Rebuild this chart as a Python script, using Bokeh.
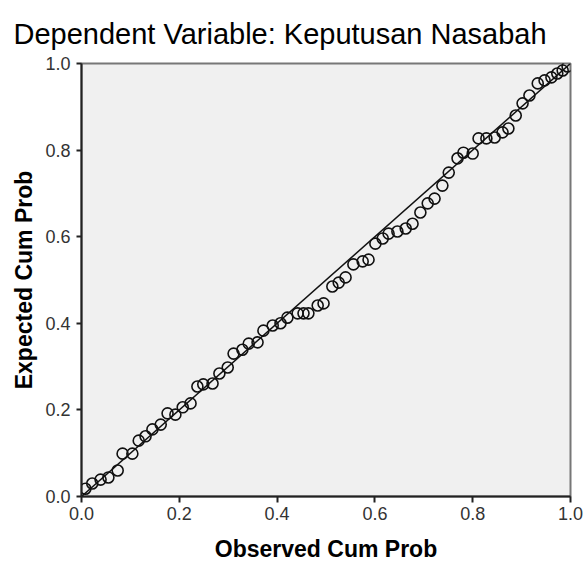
from bokeh.plotting import figure
from bokeh.models import Range1d, FixedTicker, PrintfTickFormatter
from bokeh.embed import file_html
from bokeh.resources import INLINE

title_text = "Dependent Variable: Keputusan Nasabah"
x_label = "Observed Cum Prob"
y_label = "Expected Cum Prob"

observed = [0.008, 0.022, 0.039, 0.055, 0.074, 0.084, 0.104, 0.117, 0.131, 0.145,
            0.162, 0.176, 0.192, 0.207, 0.223, 0.237, 0.249, 0.268, 0.282, 0.299,
            0.311, 0.329, 0.342, 0.360, 0.372, 0.391, 0.407, 0.421, 0.442, 0.454,
            0.464, 0.483, 0.495, 0.513, 0.526, 0.540, 0.556, 0.575, 0.587, 0.601,
            0.616, 0.628, 0.646, 0.663, 0.677, 0.693, 0.708, 0.722, 0.738, 0.751,
            0.769, 0.781, 0.800, 0.812, 0.828, 0.845, 0.861, 0.873, 0.888, 0.902,
            0.916, 0.933, 0.947, 0.961, 0.973, 0.984, 0.994]
expected = [0.018, 0.030, 0.039, 0.044, 0.060, 0.099, 0.099, 0.129, 0.139, 0.155,
            0.166, 0.192, 0.189, 0.206, 0.215, 0.254, 0.259, 0.261, 0.284, 0.298,
            0.330, 0.339, 0.353, 0.356, 0.383, 0.395, 0.400, 0.413, 0.423, 0.423,
            0.423, 0.441, 0.446, 0.485, 0.494, 0.506, 0.536, 0.543, 0.547, 0.584,
            0.596, 0.607, 0.612, 0.619, 0.630, 0.656, 0.677, 0.688, 0.718, 0.748,
            0.781, 0.794, 0.792, 0.827, 0.827, 0.829, 0.841, 0.850, 0.880, 0.908,
            0.926, 0.954, 0.961, 0.968, 0.977, 0.984, 0.993]
ref_line_x = [0.0, 1.0]
ref_line_y = [0.0, 1.0]
ticks = [0.0, 0.2, 0.4, 0.6, 0.8, 1.0]

FONT = "Liberation Sans"

p = figure(width=583, height=565, output_backend="svg", toolbar_location=None,
           x_range=Range1d(0, 1), y_range=Range1d(0, 1),
           min_border_left=81, min_border_right=13, min_border_top=63, min_border_bottom=69)

p.title.text = title_text
p.title.align = "left"
p.title.offset = -68
p.title.text_font = FONT
p.title.text_font_size = "29px"
p.title.text_font_style = "normal"
p.title.text_color = "#000000"
p.title.standoff = 27

p.background_fill_color = "#f0f0f0"
p.border_fill_color = "white"
p.outline_line_color = "#777777"
p.outline_line_width = 2
p.xgrid.visible = False
p.ygrid.visible = False

for ax in (p.xaxis, p.yaxis):
    ax.ticker = FixedTicker(ticks=ticks)
    ax.formatter = PrintfTickFormatter(format="%.1f")
    ax.minor_tick_line_color = None
    ax.major_tick_in = 0
    ax.axis_line_color = "#222222"
    ax.axis_line_width = 2
    ax.major_tick_line_color = "#222222"
    ax.major_tick_line_width = 2
    ax.major_label_text_font = FONT
    ax.major_label_text_font_size = "18px"
    ax.major_label_text_color = "#333333"
    ax.axis_label_text_font = FONT
    ax.axis_label_text_font_size = "23px"
    ax.axis_label_text_font_style = "bold"
    ax.axis_label_text_color = "#000000"

p.xaxis.axis_label = x_label
p.yaxis.axis_label = y_label
p.xaxis.major_tick_out = 6
p.yaxis.major_tick_out = 5
p.xaxis.major_label_standoff = 4
p.yaxis.major_label_standoff = 6
p.xaxis.axis_label_standoff = 13
p.yaxis.axis_label_standoff = 5

p.line(ref_line_x, ref_line_y, line_color="#111111", line_width=1.5)
p.scatter(observed, expected, marker="circle", size=11, fill_color=None,
          line_color="#111111", line_width=1.6)

open("out.html", "w").write(file_html(p, INLINE))
